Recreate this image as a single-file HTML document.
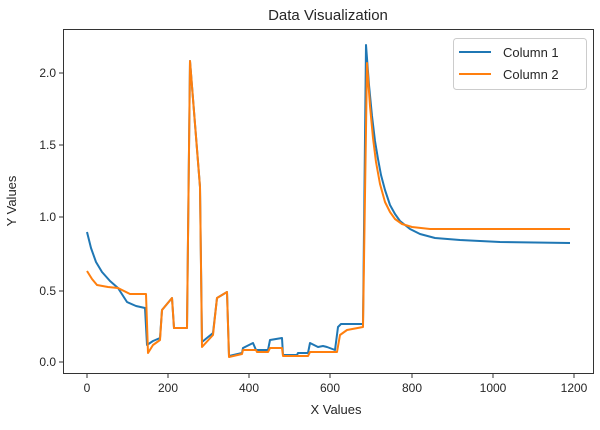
<!DOCTYPE html>
<html><head><meta charset="utf-8"><style>body{margin:0;background:#fff}svg{display:block}text{font-family:"Liberation Sans","DejaVu Sans",sans-serif;fill:#262626}</style></head>
<body>
<svg width="600" height="430" viewBox="0 0 600 430" xmlns="http://www.w3.org/2000/svg">
<rect width="600" height="430" fill="#fff"/>
<text x="328" y="20" font-size="15" text-anchor="middle">Data Visualization</text>
<g stroke="#333" stroke-width="1">
<line x1="59" y1="73" x2="63" y2="73"/><line x1="59" y1="145" x2="63" y2="145"/><line x1="59" y1="217" x2="63" y2="217"/><line x1="59" y1="291" x2="63" y2="291"/><line x1="59" y1="362" x2="63" y2="362"/>
<line x1="87" y1="374" x2="87" y2="378"/><line x1="168" y1="374" x2="168" y2="378"/><line x1="249" y1="374" x2="249" y2="378"/><line x1="330" y1="374" x2="330" y2="378"/><line x1="412" y1="374" x2="412" y2="378"/><line x1="493" y1="374" x2="493" y2="378"/><line x1="574" y1="374" x2="574" y2="378"/>
</g>
<g font-size="12" text-anchor="end">
<text x="56" y="77">2.0</text><text x="56" y="149">1.5</text><text x="56" y="221">1.0</text><text x="56" y="295">0.5</text><text x="56" y="366">0.0</text>
</g>
<g font-size="12" text-anchor="middle">
<text x="87" y="392">0</text><text x="168" y="392">200</text><text x="249" y="392">400</text><text x="330" y="392">600</text><text x="412" y="392">800</text><text x="493" y="392">1000</text><text x="574" y="392">1200</text>
</g>
<text x="336" y="414" font-size="13" text-anchor="middle">X Values</text>
<text transform="translate(16,201) rotate(-90)" font-size="13" text-anchor="middle">Y Values</text>
<polyline fill="none" stroke="#1f77b4" stroke-width="2" stroke-linejoin="round" points="87,232 91,248 96,262 102,272 110,281 118,288 127,302 136,306 145,308 147,345 153,341 160,338 162,310 172,298 174,328 187,328 190,61 200,187 202,342 213,333 217,298 227,292 229,356 242,353 243,348 253,343 256,350 268,350 270,340 282,338 283,355 297,355 298,353 308,353 310,343 318,347 323,346 327,347 335,350 338,327 341,324 363,324 366,45 369,85 372,116 375,141 378,159 381,175 385,190 390,205 395,214 400,221 410,229 420,234 435,238 460,240 500,242 570,243"/>
<polyline fill="none" stroke="#ff7f0e" stroke-width="2" stroke-linejoin="round" points="87,271 92,279 97,285 108,287 118,288 130,294 146,294 148,353 153,345 160,340 162,310 172,298 174,328 187,328 190,61 200,187 202,347 213,335 217,298 227,292 229,357 242,354 243,350 256,350 257,352 268,352 270,348 282,348 283,356 297,356 308,356 310,352 335,352 337,352 340,335 347,330 363,327 367,63 370,106 373,138 376,162 380,184 385,202 390,212 395,219 402,224 412,227 430,229 570,229"/>
<rect x="63.5" y="29.5" width="530" height="344" fill="none" stroke="#333" stroke-width="1"/>
<rect x="453.5" y="38.5" width="133" height="51" rx="3" fill="#fff" fill-opacity="0.85" stroke="#ccc"/>
<line x1="459" y1="52" x2="491" y2="52" stroke="#1f77b4" stroke-width="2"/>
<line x1="459" y1="74" x2="491" y2="74" stroke="#ff7f0e" stroke-width="2"/>
<text x="503" y="57" font-size="13">Column 1</text>
<text x="503" y="79" font-size="13">Column 2</text>
</svg>
</body></html>
